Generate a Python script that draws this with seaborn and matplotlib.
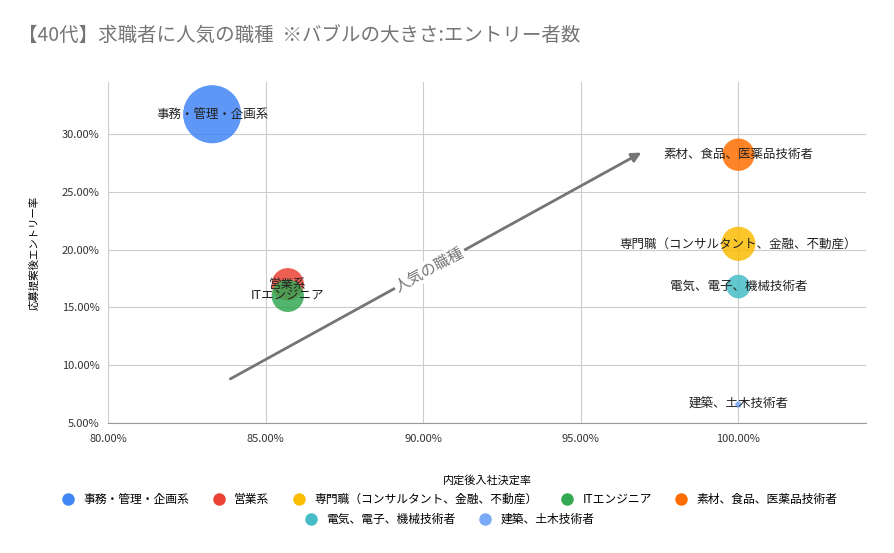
import matplotlib
matplotlib.use("Agg")
import matplotlib.pyplot as plt
from matplotlib.ticker import PercentFormatter
from matplotlib.lines import Line2D
import pandas as pd
import seaborn as sns

plt.rcParams["font.family"] = "Noto Sans CJK JP"

# データ
jobs = ["事務・管理・企画系", "営業系", "専門職（コンサルタント、金融、不動産）", "ITエンジニア",
        "素材、食品、医薬品技術者", "電気、電子、機械技術者", "建築、土木技術者"]
decision_rate = [83.3, 85.7, 100.0, 85.7, 100.0, 100.0, 100.0]
entry_rate = [31.7, 17.0, 20.5, 16.0, 28.2, 16.8, 6.6]
entries = [84, 26, 29, 26, 26, 14, 1]
colors = ["#4285F4", "#EA4335", "#FBBC04", "#34A853", "#FF6D01", "#46BDC6", "#7BAAF7"]

df = pd.DataFrame({"job": jobs, "x": decision_rate, "y": entry_rate, "n": entries})

fig = plt.figure(figsize=(8.94, 5.53), dpi=100)
ax = fig.add_axes([0.121, 0.235, 0.848, 0.617])

sns.scatterplot(data=df, x="x", y="y", hue="job", palette=colors, size="n",
                sizes=(0, 1750), size_norm=(0, 84), alpha=0.85, linewidth=0,
                legend=False, ax=ax, zorder=3)

for _, r in df.iterrows():
    ax.text(r["x"], r["y"], r["job"], ha="center", va="center", fontsize=9,
            color="#222222", zorder=5)

ax.annotate("", xy=(97.0, 28.5), xytext=(83.8, 8.7),
            arrowprops=dict(arrowstyle="-|>", color="#757575", lw=2, mutation_scale=14), zorder=2)
ax.text(90.2, 18.3, "人気の職種", rotation=28.6, ha="center", va="center", fontsize=11,
        color="#757575", bbox=dict(facecolor="white", edgecolor="none", pad=1), zorder=2.5)

ax.set_xlim(80, 104.06)
ax.set_ylim(5, 34.5)
ax.set_xticks([80, 85, 90, 95, 100])
ax.set_yticks([5, 10, 15, 20, 25, 30])
ax.xaxis.set_major_formatter(PercentFormatter(decimals=2))
ax.yaxis.set_major_formatter(PercentFormatter(decimals=2))
ax.tick_params(length=0, labelsize=8, colors="#333333")
ax.tick_params(axis="x", pad=8)
ax.tick_params(axis="y", pad=6)
ax.grid(color="#cccccc", lw=0.8, zorder=0)
ax.set_axisbelow(True)
for s in ["top", "right", "left"]:
    ax.spines[s].set_visible(False)
ax.spines["bottom"].set_color("#999999")
ax.set_xlabel("内定後入社決定率", fontsize=8, labelpad=22)
ax.set_ylabel("応募提案後エントリー率", fontsize=7.5, labelpad=16)

fig.text(0.02, 0.925, "【40代】求職者に人気の職種  ※バブルの大きさ:エントリー者数",
         fontsize=14, color="#757575")

handles = [Line2D([0], [0], marker="o", ls="", markersize=9, markerfacecolor=c,
                  markeredgewidth=0, label=j) for j, c in zip(jobs, colors)]
fig.legend(handles=handles[:5], loc="center", bbox_to_anchor=(0.5, 0.097), ncol=5,
           frameon=False, fontsize=8.5, handletextpad=0.3, columnspacing=1.5)
fig.legend(handles=handles[5:], loc="center", bbox_to_anchor=(0.5, 0.061), ncol=2,
           frameon=False, fontsize=8.5, handletextpad=0.3, columnspacing=1.5)

fig.savefig("out.png", dpi=100)
